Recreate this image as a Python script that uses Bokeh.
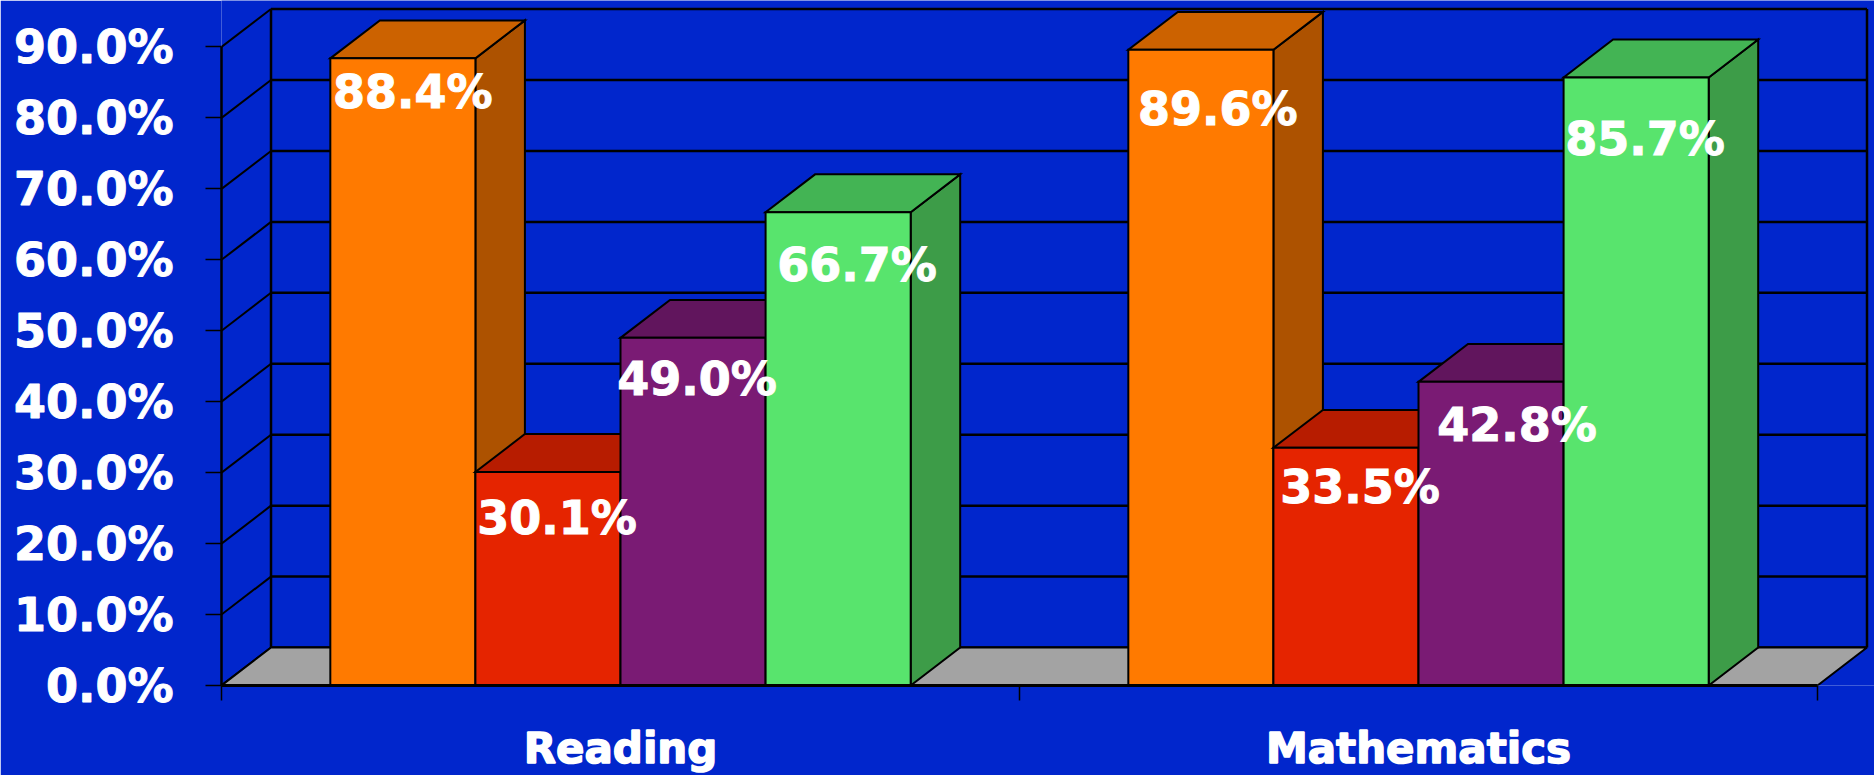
from bokeh.core.properties import value
from bokeh.embed import file_html
from bokeh.models import ColumnDataSource, FixedTicker, LinearAxis, PrintfTickFormatter, Range1d
from bokeh.plotting import figure
from bokeh.resources import INLINE

categories = ["Reading", "Mathematics"]
orange_values = [88.4, 89.6]
red_values = [30.1, 33.5]
purple_values = [49.0, 42.8]
green_values = [66.7, 85.7]
tick_values = [0, 10, 20, 30, 40, 50, 60, 70, 80, 90]

# Front, top and side shades of each bar series
series = [
    (orange_values, "#FF7A00", "#CC6200", "#AD5200"),
    (red_values, "#E52400", "#B71C00", "#9C1800"),
    (purple_values, "#7A1B74", "#61155D", "#53134F"),
    (green_values, "#58E46D", "#43B454", "#3D9C48"),
]

# Pixel nudges of the value labels, series by series, one per category
label_dx = [[10, 17], [9, 14], [4, 26], [19, 9]]
label_dy = [[34, 59], [46, 39], [41, 43], [53, 62]]

BACKGROUND = "#0126CC"
FLOOR = "#A3A3A3"
FONT = "DejaVu Sans"

# Layout of the plot in pixels
LEFT, RIGHT_END, BASE = 221, 1817, 686
PX_PER_GROUP = (RIGHT_END - LEFT) / len(categories)
PX_PER_PCT = 7.105
DEPTH_X = 49.5 / PX_PER_GROUP
DEPTH_Y = 38 / PX_PER_PCT

BAR = 1 / 5.5
GAP = 0.75 * BAR
x_max = len(categories)
top_pct = tick_values[-1]

p = figure(
    width=1874, height=775,
    x_range=Range1d(0, (1874 - LEFT) / PX_PER_GROUP),
    y_range=Range1d(0, BASE / PX_PER_PCT),
    x_axis_type=None, y_axis_type=None,
    output_backend="svg", toolbar_location=None,
    background_fill_color=BACKGROUND, border_fill_color=BACKGROUND,
    outline_line_color=None,
    min_border_left=LEFT, min_border_right=0, min_border_top=0, min_border_bottom=775 - BASE,
)
p.grid.visible = False

# Wall grid: the slanted lines on the left wall and the horizontals on the back wall
p.multi_line(
    xs=[[0, DEPTH_X] for _ in tick_values],
    ys=[[t, t + DEPTH_Y] for t in tick_values],
    line_color="black", line_width=2,
)
p.multi_line(
    xs=[[DEPTH_X, x_max + DEPTH_X] for _ in tick_values],
    ys=[[t + DEPTH_Y, t + DEPTH_Y] for t in tick_values],
    line_color="black", line_width=2.5,
)
p.multi_line(
    xs=[[DEPTH_X, DEPTH_X], [x_max + DEPTH_X, x_max + DEPTH_X]],
    ys=[[DEPTH_Y, top_pct + DEPTH_Y], [DEPTH_Y, top_pct + DEPTH_Y]],
    line_color="black", line_width=2.5,
)

# Floor
p.patch(
    x=[0, x_max, x_max + DEPTH_X, DEPTH_X],
    y=[0, 0, DEPTH_Y, DEPTH_Y],
    fill_color=FLOOR, line_color="black", line_width=2,
)

# Bars are painted left to right, each as side, top, then front
xs, ys, fills = [], [], []
lx, ly, ltext, ldx, ldy = [], [], [], [], []
for g in range(len(categories)):
    for s, (vals, front, top, side) in enumerate(series):
        v = vals[g]
        x0 = g + GAP + s * BAR
        x1 = x0 + BAR
        xs.append([x1, x1 + DEPTH_X, x1 + DEPTH_X, x1])
        ys.append([0, DEPTH_Y, v + DEPTH_Y, v])
        fills.append(side)
        xs.append([x0, x1, x1 + DEPTH_X, x0 + DEPTH_X])
        ys.append([v, v, v + DEPTH_Y, v + DEPTH_Y])
        fills.append(top)
        xs.append([x0, x1, x1, x0])
        ys.append([0, 0, v, v])
        fills.append(front)
        lx.append((x0 + x1) / 2)
        ly.append(v)
        ltext.append(f"{v:.1f}%")
        ldx.append(label_dx[s][g])
        ldy.append(label_dy[s][g])

p.patches(
    xs="xs", ys="ys", fill_color="fill", line_color="black", line_width=2, line_join="miter",
    source=ColumnDataSource(dict(xs=xs, ys=ys, fill=fills)),
)

# Value labels
p.text(
    x="x", y="y", text="text", x_offset="dx", y_offset="dy",
    text_color="white", text_outline_color="white", text_font=value(FONT), text_font_style="bold",
    text_font_size="46px", text_align="center", text_baseline="middle",
    source=ColumnDataSource(dict(x=lx, y=ly, text=ltext, dx=ldx, dy=ldy)),
)

# Value axis on the front edge of the left wall
yaxis = LinearAxis(
    ticker=FixedTicker(ticks=tick_values),
    formatter=PrintfTickFormatter(format="%.1f%%"),
    bounds=(0, top_pct),
    axis_line_color="black", axis_line_width=2.5,
    major_tick_line_color="black", major_tick_line_width=1.5,
    major_tick_in=0, major_tick_out=16, minor_tick_out=0, minor_tick_in=0,
    major_label_standoff=32,
    major_label_text_color="white", major_label_text_outline_color="white",
    major_label_text_font=FONT,
    major_label_text_font_style="bold", major_label_text_font_size="46px",
)
p.add_layout(yaxis, "left")

# Category axis: labels sit at group centres, tick marks at group boundaries
xaxis = LinearAxis(
    ticker=FixedTicker(
        ticks=[g + 0.5 for g in range(len(categories))],
        minor_ticks=list(range(len(categories) + 1)),
    ),
    major_label_overrides={g + 0.5: c for g, c in enumerate(categories)},
    bounds=(0, x_max),
    axis_line_color="black", axis_line_width=3,
    major_tick_line_color=None, major_tick_in=0, major_tick_out=0,
    minor_tick_line_color="black", minor_tick_line_width=1.5, minor_tick_in=0, minor_tick_out=15,
    major_label_standoff=23,
    major_label_text_color="white", major_label_text_outline_color="white",
    major_label_text_font=FONT,
    major_label_text_font_style="bold", major_label_text_font_size="42px",
)
p.add_layout(xaxis, "below")

open("out.html", "w").write(file_html(p, INLINE))
